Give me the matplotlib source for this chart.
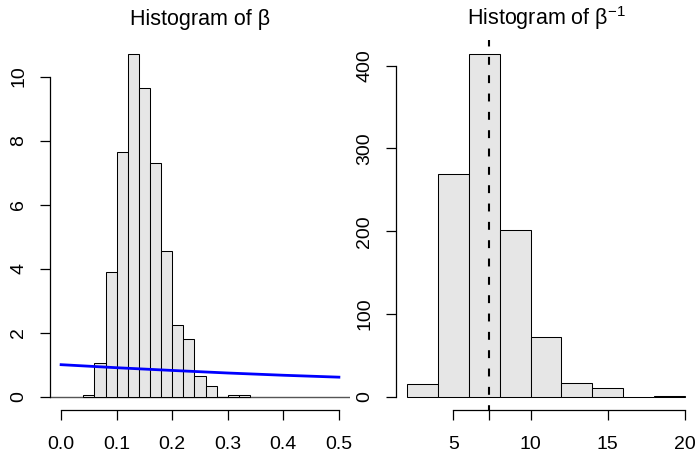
import matplotlib
matplotlib.use("Agg")
import matplotlib.pyplot as plt
import numpy as np

plt.rcParams['font.family'] = ['Liberation Sans', 'DejaVu Sans']
plt.rcParams['mathtext.fontset'] = 'custom'
plt.rcParams['mathtext.rm'] = 'Liberation Sans'
plt.rcParams['mathtext.it'] = 'Liberation Sans'

# left panel: density histogram of beta (bin width 0.02)
beta_edges = [0.04, 0.06, 0.08, 0.10, 0.12, 0.14, 0.16, 0.18, 0.20, 0.22,
              0.24, 0.26, 0.28, 0.30, 0.32, 0.34]
beta_density = [0.05, 1.05, 3.9, 7.65, 10.7, 9.65, 7.3, 4.55, 2.25, 1.8,
                0.65, 0.33, 0.0, 0.05, 0.05]
# prior density curve (blue)
prior_x = [0.0, 0.1, 0.2, 0.3, 0.4, 0.5]
prior_y = [1.0, 0.905, 0.82, 0.74, 0.67, 0.61]

# right panel: counts of 1/beta (bin width 2)
inv_edges = [2, 4, 6, 8, 10, 12, 14, 16, 18, 20]
inv_counts = [15, 269, 414, 202, 72, 17, 10, 0, 1]
inv_mean = 7.33

BAR_FC = '#E6E6E6'
TICK_FS = 14
TITLE_FS = 15.5


def r_style(ax, xb, yb):
    for s in ['top', 'right']:
        ax.spines[s].set_visible(False)
    ax.spines['left'].set_bounds(*yb)
    ax.spines['bottom'].set_bounds(*xb)
    for s in ['left', 'bottom']:
        ax.spines[s].set_linewidth(0.9)
    ax.tick_params(direction='out', length=7.5, width=0.9, labelsize=TICK_FS, pad=9)
    ax.tick_params(axis='x', pad=11)
    ax.tick_params(axis='y', labelrotation=90)
    for lab in ax.get_yticklabels():
        lab.set_va('center')


fig = plt.figure(figsize=(6.97, 4.55), dpi=100)

# ---- left
ax1 = fig.add_axes([50 / 697, 44.6 / 455, 300 / 697, 370 / 455])
w = np.diff(beta_edges)
ax1.bar(beta_edges[:-1], beta_density, width=w, align='edge', color=BAR_FC,
        edgecolor='black', linewidth=0.75, zorder=2)
ax1.axhline(0, color='#555555', linewidth=1.0, zorder=1)
ax1.plot(prior_x, prior_y, color='#0000FF', linewidth=2.0, zorder=3)
ax1.set_xlim(-0.02, 0.52)
ymax = max(beta_density)
ax1.set_ylim(-0.04 * ymax, 1.04 * ymax)
ax1.set_xticks([0.0, 0.1, 0.2, 0.3, 0.4, 0.5])
ax1.set_xticklabels(['0.0', '0.1', '0.2', '0.3', '0.4', '0.5'])
ax1.set_yticks([0, 2, 4, 6, 8, 10])
r_style(ax1, (0.0, 0.5), (0, 10))
ax1.set_title('Histogram of β', fontsize=TITLE_FS, pad=11)

# ---- right
ax2 = fig.add_axes([396 / 697, 44.6 / 455, 300 / 697, 370 / 455])
w2 = np.diff(inv_edges)
ax2.bar(inv_edges[:-1], inv_counts, width=w2, align='edge', color=BAR_FC,
        edgecolor='black', linewidth=0.75, zorder=2)
ax2.axvline(inv_mean, color='black', linewidth=1.5, linestyle=(1.5, (3.8, 5.0)), zorder=3)
ax2.set_xlim(2 - 0.04 * 18, 20 + 0.04 * 18)
cmax = max(inv_counts)
ax2.set_ylim(-0.04 * cmax, 1.04 * cmax)
ax2.set_xticks([5, inv_mean, 10, 15, 20])
ax2.set_xticklabels(['5', '', '10', '15', '20'])
ax2.set_yticks([0, 100, 200, 300, 400])
r_style(ax2, (5, 20), (0, 400))
ax2.set_title('Histogram of β$^{-1}$', fontsize=TITLE_FS, pad=11)

fig.savefig('out.png', dpi=100)
